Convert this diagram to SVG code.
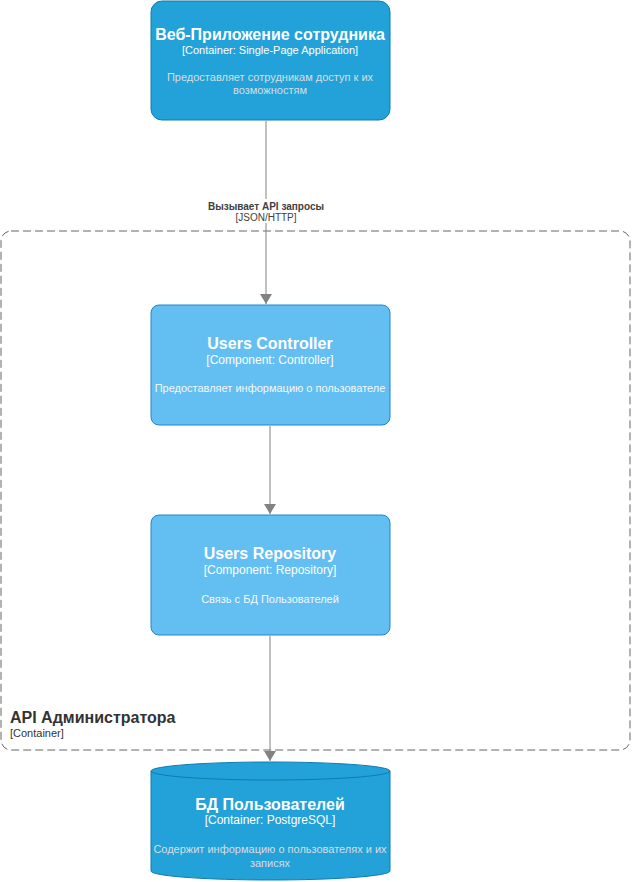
<svg xmlns="http://www.w3.org/2000/svg" width="632" height="882" viewBox="0 0 632 882">
<style>
text{font-family:"Liberation Sans",Arial,sans-serif;text-anchor:middle}
.t{font-size:16px;font-weight:bold;fill:#fff}
.ty{font-size:11px;fill:#fff}
.ty12{font-size:12px;fill:#fff}
.d{font-size:11px;fill:#d6dde2}
.cont{fill:#23a2d9;stroke:#0e7dad;stroke-width:1}
.comp{fill:#63bef2;stroke:#2086c9;stroke-width:1}
.edge{stroke:#828282;stroke-width:1;fill:none}
.lbl{font-size:10px;fill:#404040}
</style>
<defs>
<marker id="ah" markerWidth="10" markerHeight="14" refX="10" refY="7" orient="auto" markerUnits="userSpaceOnUse">
<path d="M0,1 L10,7 L0,13 Z" fill="#828282"/>
</marker>
</defs>
<g id="boundary">
<rect x="1" y="231" width="629" height="519" rx="10" fill="none" stroke="#666" stroke-dasharray="8,4"/>
<text x="10" y="723" style="text-anchor:start;font-size:16px;font-weight:bold;fill:#333">API Администратора</text>
<text x="10" y="737" style="text-anchor:start;font-size:11px;fill:#333">[Container]</text>
</g>
<g id="webapp">
<rect class="cont" x="151" y="1" width="239" height="119" rx="11"/>
<text class="t" x="270" y="40">Веб-Приложение сотрудника</text>
<text class="ty" x="270" y="54">[Container: Single-Page Application]</text>
<text class="d" x="270" y="81">Предоставляет сотрудникам доступ к их</text>
<text class="d" x="270" y="94">возможностям</text>
</g>
<g id="controller">
<rect class="comp" x="151" y="305" width="239" height="120" rx="8"/>
<text class="t" x="270" y="349">Users Controller</text>
<text class="ty12" x="270" y="364">[Component: Controller]</text>
<text class="ty" x="270" y="392" style="fill:#f4f8fb">Предоставляет информацию о пользователе</text>
</g>
<g id="repository">
<rect class="comp" x="151" y="515" width="239" height="120" rx="8"/>
<text class="t" x="270" y="559">Users Repository</text>
<text class="ty12" x="270" y="574">[Component: Repository]</text>
<text class="ty" x="270" y="603" style="fill:#f4f8fb">Связь с БД Пользователей</text>
</g>
<g id="db">
<path class="cont" d="M151,771 A119.5,9 0 0 1 390,771 L390,871 A119.5,9 0 0 1 151,871 Z"/>
<path d="M151,771 A119.5,9 0 0 0 390,771" fill="none" stroke="#0e7dad"/>
<text class="t" x="270" y="810">БД Пользователей</text>
<text class="ty12" x="270" y="824">[Container: PostgreSQL]</text>
<text class="d" x="270" y="853">Содержит информацию о пользователях и их</text>
<text class="d" x="270" y="867">записях</text>
</g>
<g id="connectors">
<line class="edge" x1="266" y1="121" x2="266" y2="304" marker-end="url(#ah)"/>
<rect x="204" y="199" width="124" height="24" fill="#fff"/>
<text class="lbl" x="266" y="210" style="font-weight:bold">Вызывает API запросы</text>
<text class="lbl" x="266" y="221">[JSON/HTTP]</text>
<line class="edge" x1="270" y1="426" x2="270" y2="514" marker-end="url(#ah)"/>
<line class="edge" x1="270" y1="636" x2="270" y2="761" marker-end="url(#ah)"/>
</g>
</svg>
